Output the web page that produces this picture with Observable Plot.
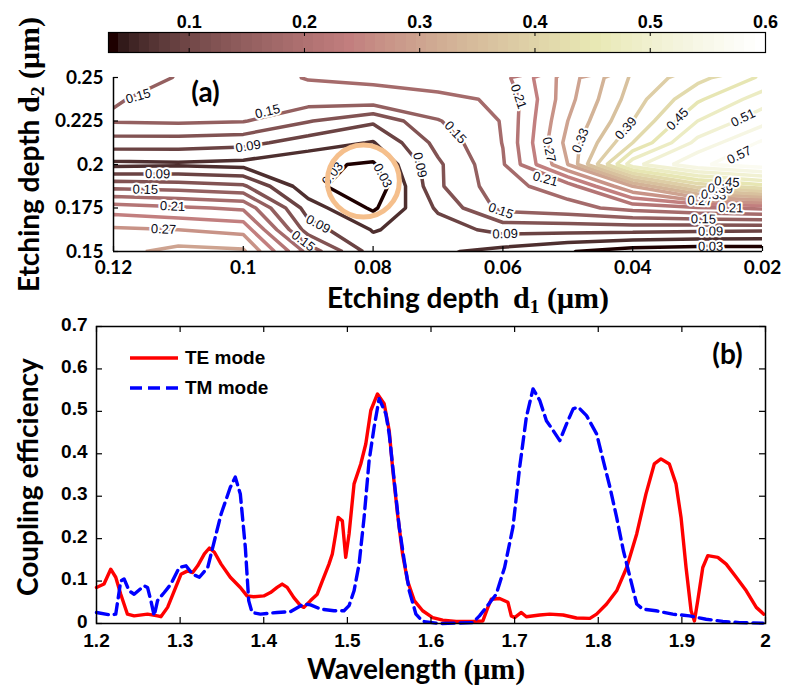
<!DOCTYPE html>
<html>
<head>
<meta charset="utf-8">
<script src="https://cdn.jsdelivr.net/npm/d3@7"></script>
<script src="https://cdn.jsdelivr.net/npm/@observablehq/plot@0.6"></script>
<style>
  html, body { margin: 0; padding: 0; background: #fff; }
  #fig { position: relative; width: 788px; height: 693px; overflow: hidden; background: #fff; }
  .title { position: absolute; font-family: Lato, "Open Sans", sans-serif; font-weight: bold; font-size: 28px;
           line-height: 32px; color: #000; white-space: nowrap; }
  .rot { transform-origin: 0 0; transform: rotate(-90deg); }
  .serif { font-family: "Liberation Serif", "DejaVu Serif", serif; font-weight: bold; font-size: 30px; }
  .serif sub { font-size: 0.65em; vertical-align: -0.25em; line-height: 0; }
  .legend { position: absolute; left: 130px; top: 343px; font-family: "Liberation Sans", Arial, sans-serif;
            font-weight: bold; font-size: 19px; color: #000; }
  .legend div { height: 30px; display: flex; align-items: center; }
  .legend svg { margin-right: 7px; }
</style>
</head>
<body>
<div id="fig"></div>
<script>
// ---------- (a) coupling efficiency versus the two etching depths ----------
const d1Values = [0.12, 0.11, 0.10, 0.09, 0.08, 0.07, 0.06, 0.05, 0.04, 0.03, 0.02];
const d2Values = [0.25, 0.2375, 0.225, 0.2125, 0.2, 0.1875, 0.175, 0.1625, 0.15];
// one row per d2 (top row first), one column per d1
const efficiencyGrid = [
  [0.130, 0.152, 0.165, 0.182, 0.185, 0.190, 0.200, 0.285, 0.365, 0.410, 0.455],
  [0.148, 0.158, 0.160, 0.165, 0.170, 0.175, 0.183, 0.290, 0.375, 0.445, 0.495],
  [0.153, 0.155, 0.152, 0.122, 0.095, 0.148, 0.182, 0.300, 0.390, 0.480, 0.530],
  [0.105, 0.105, 0.100, 0.075, 0.058, 0.130, 0.181, 0.310, 0.420, 0.520, 0.575],
  [0.052, 0.055, 0.050, 0.036, 0.026, 0.115, 0.177, 0.300, 0.500, 0.565, 0.590],
  [0.140, 0.135, 0.125, 0.040, 0.005, 0.115, 0.170, 0.195, 0.300, 0.400, 0.440],
  [0.225, 0.215, 0.205, 0.075, 0.025, 0.095, 0.160, 0.170, 0.190, 0.205, 0.215],
  [0.275, 0.270, 0.260, 0.105, 0.058, 0.075, 0.100, 0.100, 0.100, 0.097, 0.095],
  [0.290, 0.310, 0.305, 0.170, 0.075, 0.065, 0.050, 0.032, 0.015, 0.010, 0.010]
];
const contourLevels = [0.03, 0.06, 0.09, 0.12, 0.15, 0.18, 0.21, 0.24, 0.27, 0.30,
                       0.33, 0.36, 0.39, 0.42, 0.45, 0.48, 0.51, 0.54, 0.57];
// labelled levels with the spot where each label sits
const contourLabels = [
  {level: 0.15, d1: 0.1161, d2: 0.2379}, {level: 0.15, d1: 0.0958, d2: 0.2241},
  {level: 0.09, d1: 0.0992, d2: 0.2092}, {level: 0.09, d1: 0.1132, d2: 0.1943},
  {level: 0.15, d1: 0.1151, d2: 0.1850}, {level: 0.21, d1: 0.1109, d2: 0.1764},
  {level: 0.27, d1: 0.1123, d2: 0.1632}, {level: 0.03, d1: 0.0847, d2: 0.1897},
  {level: 0.03, d1: 0.0793, d2: 0.1920}, {level: 0.09, d1: 0.0876, d2: 0.1718},
  {level: 0.15, d1: 0.0896, d2: 0.1632}, {level: 0.09, d1: 0.0732, d2: 0.1994},
  {level: 0.15, d1: 0.0678, d2: 0.2167}, {level: 0.21, d1: 0.0580, d2: 0.2385},
  {level: 0.27, d1: 0.0537, d2: 0.2080}, {level: 0.21, d1: 0.0534, d2: 0.1925},
  {level: 0.15, d1: 0.0608, d2: 0.1661}, {level: 0.09, d1: 0.0596, d2: 0.1563},
  {level: 0.33, d1: 0.0470, d2: 0.2121}, {level: 0.39, d1: 0.0403, d2: 0.2184},
  {level: 0.45, d1: 0.0329, d2: 0.2253}, {level: 0.51, d1: 0.0237, d2: 0.2322},
  {level: 0.57, d1: 0.0234, d2: 0.2040}, {level: 0.27, d1: 0.0296, d2: 0.1810},
  {level: 0.33, d1: 0.0275, d2: 0.1840}, {level: 0.39, d1: 0.0265, d2: 0.1865},
  {level: 0.45, d1: 0.0255, d2: 0.1890}, {level: 0.21, d1: 0.0249, d2: 0.1753},
  {level: 0.15, d1: 0.0291, d2: 0.1690}, {level: 0.09, d1: 0.0280, d2: 0.1620},
  {level: 0.03, d1: 0.0280, d2: 0.1523}
];
const highlight = [{d1: 0.0815, d2: 0.1905}];
const d1Ticks = [0.12, 0.1, 0.08, 0.06, 0.04, 0.02];
const d2Ticks = [0.15, 0.175, 0.2, 0.225, 0.25];
const colorDomain = [0.03, 0.6];
const colorTicks = [0.1, 0.2, 0.3, 0.4, 0.5, 0.6];

// ---------- (b) coupling efficiency spectra ----------
const teMode = [
  [1.200,0.085],[1.209,0.093],[1.217,0.128],[1.223,0.109],[1.229,0.069],[1.237,0.022],[1.245,0.018],
  [1.261,0.022],[1.273,0.018],[1.277,0.016],[1.285,0.038],[1.293,0.077],[1.301,0.116],[1.309,0.124],
  [1.315,0.120],[1.321,0.136],[1.329,0.164],[1.335,0.178],[1.341,0.168],[1.349,0.140],[1.360,0.109],
  [1.372,0.085],[1.380,0.065],[1.388,0.063],[1.400,0.065],[1.408,0.073],[1.416,0.085],[1.422,0.093],
  [1.428,0.085],[1.436,0.061],[1.444,0.042],[1.448,0.038],[1.456,0.054],[1.464,0.069],[1.470,0.100],
  [1.478,0.140],[1.482,0.164],[1.486,0.211],[1.489,0.250],[1.494,0.242],[1.498,0.156],[1.502,0.211],
  [1.508,0.329],[1.516,0.376],[1.522,0.423],[1.528,0.502],[1.536,0.541],[1.544,0.518],[1.550,0.455],
  [1.554,0.368],[1.560,0.258],[1.566,0.164],[1.572,0.100],[1.580,0.054],[1.590,0.030],[1.602,0.014],
  [1.614,0.008],[1.630,0.005],[1.650,0.005],[1.662,0.006],[1.668,0.038],[1.672,0.057],[1.682,0.059],
  [1.692,0.050],[1.696,0.018],[1.700,0.014],[1.708,0.026],[1.714,0.016],[1.730,0.020],[1.742,0.022],
  [1.758,0.020],[1.774,0.013],[1.790,0.012],[1.798,0.022],[1.810,0.046],[1.822,0.077],[1.834,0.132],
  [1.846,0.211],[1.857,0.305],[1.867,0.376],[1.875,0.388],[1.885,0.376],[1.893,0.329],[1.899,0.250],
  [1.905,0.132],[1.911,0.030],[1.915,0.006],[1.919,0.054],[1.925,0.132],[1.931,0.160],[1.943,0.156],
  [1.953,0.140],[1.965,0.109],[1.977,0.077],[1.989,0.038],[1.998,0.022]
];
const tmMode = [
  [1.200,0.026],[1.217,0.020],[1.223,0.022],[1.229,0.100],[1.233,0.105],[1.239,0.077],[1.245,0.069],
  [1.257,0.089],[1.261,0.085],[1.265,0.054],[1.269,0.018],[1.273,0.054],[1.281,0.073],[1.289,0.093],
  [1.299,0.132],[1.307,0.136],[1.315,0.116],[1.323,0.109],[1.333,0.132],[1.341,0.195],[1.349,0.258],
  [1.360,0.321],[1.366,0.345],[1.372,0.305],[1.378,0.179],[1.382,0.054],[1.386,0.026],[1.396,0.022],
  [1.416,0.026],[1.432,0.028],[1.448,0.046],[1.456,0.044],[1.468,0.034],[1.484,0.030],[1.496,0.030],
  [1.502,0.042],[1.508,0.077],[1.514,0.140],[1.520,0.250],[1.526,0.384],[1.532,0.463],[1.538,0.530],
  [1.546,0.494],[1.550,0.447],[1.556,0.337],[1.562,0.227],[1.568,0.148],[1.574,0.077],[1.582,0.022],
  [1.590,0.005],[1.610,0.000],[1.650,0.002],[1.658,0.018],[1.666,0.038],[1.678,0.069],[1.688,0.132],
  [1.698,0.227],[1.706,0.368],[1.714,0.486],[1.722,0.553],[1.730,0.526],[1.738,0.478],[1.746,0.455],
  [1.754,0.431],[1.762,0.470],[1.770,0.506],[1.776,0.510],[1.786,0.490],[1.798,0.447],[1.806,0.384],
  [1.814,0.321],[1.822,0.250],[1.830,0.172],[1.838,0.109],[1.846,0.046],[1.853,0.034],[1.869,0.030],
  [1.889,0.022],[1.909,0.018],[1.929,0.010],[1.949,0.005],[1.969,0.002],[1.997,0.001]
];
const wavelengthTicks = [1.2, 1.3, 1.4, 1.5, 1.6, 1.7, 1.8, 1.9, 2];
const efficiencyTicks = [0, 0.1, 0.2, 0.3, 0.4, 0.5, 0.6, 0.7];

// ---------- colour map: 64-step "pink" ----------
const pinkColors = d3.range(64).map(i => {
  const gray = i / 63;
  const hot = [i < 24 ? (i + 1) / 24 : 1, i < 24 ? 0 : i < 48 ? (i - 23) / 24 : 1, i < 48 ? 0 : (i - 47) / 16];
  const [r, g, b] = hot.map(h => Math.round(255 * Math.sqrt((2 * gray + h) / 3)));
  return `rgb(${r},${g},${b})`;
});
const pinkStops = pinkColors.map((_, i) => colorDomain[0] + i * (colorDomain[1] - colorDomain[0]) / 63);

const W = 788;
const fig = document.getElementById("fig");
function place(el, top) {
  el.style.position = "absolute";
  el.style.left = "0px";
  el.style.top = top + "px";
  fig.appendChild(el);
}
const sansBold = {fontFamily: "'Liberation Sans', Arial, sans-serif", fontWeight: "bold"};

// ---------- colour bar ----------
const [cLo, cHi] = colorDomain;
const colorbarCells = pinkColors.map((c, i) => ({
  x1: cLo + i * (cHi - cLo) / 64, x2: cLo + (i + 1) * (cHi - cLo) / 64, fill: c
}));
const barH = 56, barTop = 32, barBottom = 4;
const colorbar = Plot.plot({
  width: W, height: barH, marginTop: barTop, marginBottom: barBottom, marginLeft: 108, marginRight: 23,
  x: {domain: colorDomain},
  y: {domain: [0, 1], axis: null},
  color: {type: "identity"},
  style: {background: "transparent", fontSize: "18px", ...sansBold},
  marks: [
    Plot.rect(colorbarCells, {x1: "x1", x2: "x2", y1: 0, y2: 1, fill: "fill", shapeRendering: "crispEdges"}),
    Plot.tickX(colorTicks, {insetBottom: barH - barTop - barBottom - 4, stroke: "black"}),
    Plot.tickX(colorTicks, {insetTop: barH - barTop - barBottom - 4, stroke: "black"}),
    Plot.frame({stroke: "black", strokeWidth: 1.2}),
    Plot.axisX({anchor: "top", ticks: colorTicks, tickSize: 0, tickPadding: 5, label: null,
                tickFormat: d3.format(".1f"), fontSize: 18, ...sansBold})
  ]
});
place(colorbar, 0);

// ---------- panel (a) ----------
const aH = 250, aM = {top: 17, right: 26, bottom: 59, left: 113};
const aPlotW = W - aM.left - aM.right, aPlotH = aH - aM.top - aM.bottom;
const d1Step = d1Values[0] - d1Values[1], d2Step = d2Values[0] - d2Values[1];
const nCols = d1Values.length, nRows = d2Values.length;

// bilinear reading of the grid, used to seat each label on its contour
function field(d1, d2) {
  const fi = Math.max(0, Math.min(nCols - 1 - 1e-9, (d1Values[0] - d1) / d1Step));
  const fj = Math.max(0, Math.min(nRows - 1 - 1e-9, (d2Values[0] - d2) / d2Step));
  const i = Math.floor(fi), j = Math.floor(fj), u = fi - i, v = fj - j;
  const g = efficiencyGrid;
  return (1 - u) * (1 - v) * g[j][i] + u * (1 - v) * g[j][i + 1] + (1 - u) * v * g[j + 1][i] + u * v * g[j + 1][i + 1];
}
const d1Span = d1Ticks[0] - d1Ticks[d1Ticks.length - 1];
const d2Span = d2Ticks[d2Ticks.length - 1] - d2Ticks[0];
const sx = aPlotW / d1Span, sy = aPlotH / d2Span;
const F = (px, py) => field(d1Ticks[0] - px / sx, d2Ticks[d2Ticks.length - 1] - py / sy);
const seatedLabels = contourLabels.map(l => {
  let px = (d1Ticks[0] - l.d1) * sx, py = (d2Ticks[d2Ticks.length - 1] - l.d2) * sy;
  const grad = (x, y) => [F(x + 0.5, y) - F(x - 0.5, y), F(x, y + 0.5) - F(x, y - 0.5)];
  for (let k = 0; k < 12; k++) {
    const f = F(px, py) - l.level;
    const [gx, gy] = grad(px, py);
    const g2 = gx * gx + gy * gy;
    if (g2 < 1e-14) break;
    let dx = -f * gx / g2, dy = -f * gy / g2;
    const len = Math.hypot(dx, dy);
    if (len > 6) { dx *= 6 / len; dy *= 6 / len; }
    px += dx; py += dy;
  }
  const [gx, gy] = grad(px, py);
  let angle = Math.atan2(-gx, gy) * 180 / Math.PI;
  if (angle > 90) angle -= 180;
  if (angle < -90) angle += 180;
  return {d1: d1Ticks[0] - px / sx, d2: d2Ticks[d2Ticks.length - 1] - py / sy, text: l.level.toFixed(2), rotate: angle};
});

const panelA = Plot.plot({
  width: W, height: aH, marginTop: aM.top, marginRight: aM.right, marginBottom: aM.bottom, marginLeft: aM.left,
  x: {domain: [d1Ticks[0], d1Ticks[d1Ticks.length - 1]]},
  y: {domain: [d2Ticks[0], d2Ticks[d2Ticks.length - 1]]},
  color: {type: "linear", domain: pinkStops, range: pinkColors, clamp: true},
  style: {background: "transparent", fontFamily: "Lato, 'Open Sans', sans-serif", fontWeight: "bold", fontSize: "19px"},
  marks: [
    Plot.contour(efficiencyGrid.flat(), {
      width: nCols, height: nRows,
      x1: d1Values[0] + d1Step / 2, x2: d1Values[nCols - 1] - d1Step / 2,
      y1: d2Values[0] + d2Step / 2, y2: d2Values[nRows - 1] - d2Step / 2,
      thresholds: contourLevels,
      stroke: Plot.identity, fill: "none", strokeWidth: 3.5, strokeLinejoin: "miter", clip: true
    }),
    Plot.text(seatedLabels, {
      x: "d1", y: "d2", text: "text", rotate: "rotate",
      fontSize: 13, fontWeight: "normal", fontFamily: "'Liberation Sans', Arial, sans-serif",
      fill: "#0b0b18", stroke: "white", strokeWidth: 4
    }),
    Plot.dot(highlight, {x: "d1", y: "d2", r: 36, stroke: "#f5bf8c", strokeWidth: 5, fill: "none"}),
    Plot.ruleX([d1Ticks[0]], {stroke: "black", strokeWidth: 1.5}),
    Plot.ruleY([d2Ticks[0]], {stroke: "black", strokeWidth: 1.5}),
    Plot.tickY(d2Ticks, {insetRight: aPlotW - 5, stroke: "black", strokeWidth: 1.2}),
    Plot.tickX(d1Ticks, {insetTop: aPlotH - 5, stroke: "black", strokeWidth: 1.2}),
    Plot.axisY({ticks: d2Ticks, tickSize: 0, tickPadding: 10, label: null, tickFormat: d => String(d), fontSize: 19, fontWeight: "bold"}),
    Plot.axisX({ticks: d1Ticks, tickSize: 0, tickPadding: 9, label: null, tickFormat: d => String(d), fontSize: 19, fontWeight: "bold"}),
    Plot.text(["(a)"], {frameAnchor: "top-left", dx: 92, dy: 16, textAnchor: "middle", lineAnchor: "middle",
                        fontSize: 28, fontWeight: "bold", fontFamily: "Lato, sans-serif"})
  ]
});
place(panelA, 60);

// ---------- panel (b) ----------
const bH = 350, bM = {top: 21, right: 23, bottom: 32, left: 96};
const bPlotW = W - bM.left - bM.right, bPlotH = bH - bM.top - bM.bottom;
const panelB = Plot.plot({
  width: W, height: bH, marginTop: bM.top, marginRight: bM.right, marginBottom: bM.bottom, marginLeft: bM.left,
  x: {domain: [wavelengthTicks[0], wavelengthTicks[wavelengthTicks.length - 1]]},
  y: {domain: [efficiencyTicks[0], efficiencyTicks[efficiencyTicks.length - 1]]},
  style: {background: "transparent", fontSize: "19px", ...sansBold},
  marks: [
    Plot.line(teMode, {x: d => d[0], y: d => d[1], stroke: "#ff0000", strokeWidth: 3.4, curve: "linear"}),
    Plot.line(tmMode, {x: d => d[0], y: d => d[1], stroke: "#0000ff", strokeWidth: 3.4, strokeDasharray: "12,6"}),
    Plot.frame({stroke: "black", strokeWidth: 1.5}),
    Plot.tickY(efficiencyTicks, {insetRight: bPlotW - 6, stroke: "black", strokeWidth: 1.2}),
    Plot.tickY(efficiencyTicks, {insetLeft: bPlotW - 6, stroke: "black", strokeWidth: 1.2}),
    Plot.tickX(wavelengthTicks, {insetTop: bPlotH - 6, stroke: "black", strokeWidth: 1.2}),
    Plot.tickX(wavelengthTicks, {insetBottom: bPlotH - 6, stroke: "black", strokeWidth: 1.2}),
    Plot.axisY({ticks: efficiencyTicks, tickSize: 0, tickPadding: 9, label: null, tickFormat: d3.format("~g"),
                fontSize: 19, dy: -2, ...sansBold}),
    Plot.axisX({ticks: wavelengthTicks, tickSize: 0, tickPadding: 10, label: null, tickFormat: d3.format("~g"),
                fontSize: 19, ...sansBold}),
    Plot.text(["(b)"], {frameAnchor: "top-right", dx: -38, dy: 29, textAnchor: "middle", lineAnchor: "middle",
                        fontSize: 28, fontWeight: "bold", fontFamily: "Lato, sans-serif"})
  ]
});
place(panelB, 305);

// ---------- titles and legend ----------
fig.insertAdjacentHTML("beforeend", `
  <div class="title rot" style="left:12px; top:292px;">Etching depth <span class="serif">d<sub>2</sub> (μm)</span></div>
  <div class="title" style="left:327px; top:281px;">Etching depth&nbsp; <span class="serif">d<sub>1</sub> (μm)</span></div>
  <div class="title rot" style="left:11px; top:596px;">Coupling efficiency</div>
  <div class="title" style="left:307px; top:652px;">Wavelength <span class="serif">(μm)</span></div>
  <div class="legend">
    <div><svg width="48" height="8"><line x1="0" y1="4" x2="48" y2="4" stroke="#ff0000" stroke-width="3.4"/></svg>TE mode</div>
    <div><svg width="48" height="8"><line x1="0" y1="4" x2="48" y2="4" stroke="#0000ff" stroke-width="3.4" stroke-dasharray="12,6"/></svg>TM mode</div>
  </div>
`);
</script>
</body>
</html>
